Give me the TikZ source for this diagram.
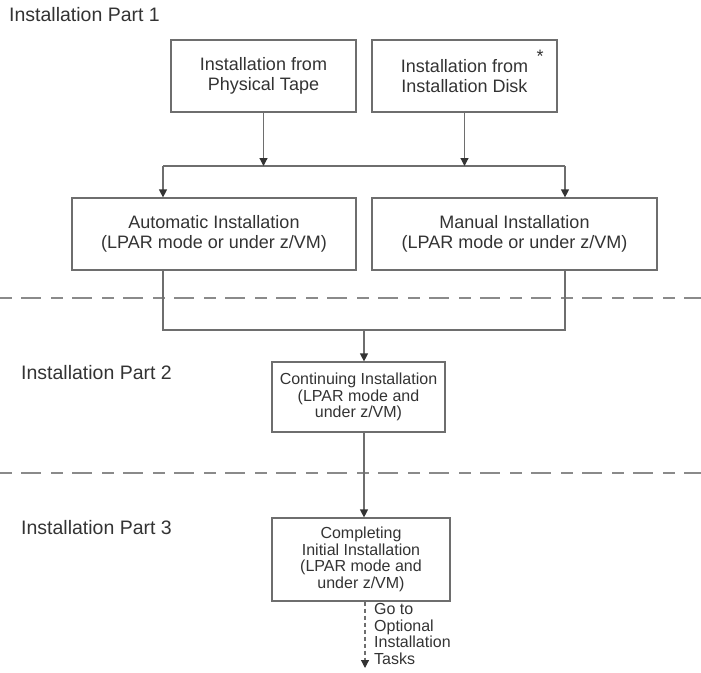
\documentclass[tikz,border=0pt]{standalone}
\usepackage{fontspec}
\setmainfont{Liberation Sans}
\usetikzlibrary{arrows.meta}
\definecolor{inktext}{HTML}{333333}
\definecolor{inkline}{HTML}{6E6E6E}
\definecolor{inkdash}{HTML}{8A8A8A}
\begin{document}
\begin{tikzpicture}[x=1pt,y=-1pt,
  every node/.style={text=inktext},
  bigbox/.style={draw=inkline,line width=1.2pt,align=center,inner sep=0pt,
    font=\fontsize{18}{20}\selectfont},
  smallbox/.style={draw=inkline,line width=1.2pt,align=center,inner sep=0pt,
    font=\fontsize{16}{16.5}\selectfont},
  partlabel/.style={anchor=west,inner sep=0pt,font=\fontsize{19.5}{22}\selectfont},
  link/.style={draw=inkline,line width=1.2pt},
  arr/.style={link,-{Triangle[width=8pt,length=8pt,fill=inktext,color=inktext]}},
  dotarr/.style={arr,dash pattern=on 4pt off 3pt},
  separator/.style={draw=inkdash,line width=1.5pt,dash pattern=on 12pt off 9pt on 20pt off 10pt}]
\useasboundingbox (0,0) rectangle (701,672);

% section titles
\node[partlabel] (p1) at (9,15) {Installation Part 1};
\node[partlabel] (p2) at (21,373) {Installation Part 2};
\node[partlabel] (p3) at (21,528) {Installation Part 3};

% separators between the parts
\coordinate (sepAl) at (0,298);
\coordinate (sepAr) at (701,298);
\coordinate (sepBl) at (0,473);
\coordinate (sepBr) at (701,473);
\draw[separator] (sepAl) -- (sepAr);
\draw[separator] (sepBl) -- (sepBr);

% part 1
\node[bigbox,minimum width=185pt,minimum height=72pt] (tape) at (263.5,76)
  {Installation from\\Physical Tape};
\node[bigbox,minimum width=185pt,minimum height=72pt] (disk) at (464.5,76)
  {Installation from\\Installation Disk};
\node[inner sep=0pt,font=\fontsize{18}{20}\selectfont] (star) at (540,56) {*};
\node[bigbox,minimum width=284pt,minimum height=72pt] (auto) at (214,234)
  {Automatic Installation\\(LPAR mode or under z/VM)};
\node[bigbox,minimum width=285pt,minimum height=72pt] (manual) at (514.5,234)
  {Manual Installation\\(LPAR mode or under z/VM)};

% part 2
\node[smallbox,minimum width=173pt,minimum height=70pt] (cont) at (358.5,397)
  {Continuing Installation\\(LPAR mode and\\under z/VM)};

% part 3
\node[smallbox,minimum width=178pt,minimum height=83pt] (compl) at (361,559.5)
  {Completing\\Initial Installation\\(LPAR mode and\\under z/VM)};
\node[anchor=north west,inner sep=0pt,align=left,
  font=\fontsize{16}{16.7}\selectfont] (optional) at (374,603)
  {Go to\\Optional\\Installation\\Tasks};

% junction points of the connectors
\coordinate (splitL) at (163,166);
\coordinate (splitR) at (565,166);
\coordinate (joinL) at (163,330);
\coordinate (joinR) at (565,330);
\coordinate (joinM) at (364,330);
\coordinate (tasks) at (365,668);

\draw[link] (splitL) -- (splitR);
\draw[arr] (tape.south) -- (tape.south |- splitL);
\draw[arr] (disk.south) -- (disk.south |- splitL);
\draw[arr] (splitL) -- (splitL |- auto.north);
\draw[arr] (splitR) -- (splitR |- manual.north);

\draw[link] (auto.south -| joinL) -- (joinL) -- (joinR) -- (manual.south -| joinR);
\draw[arr] (joinM) -- (joinM |- cont.north);
\draw[arr] (joinM |- cont.south) -- (joinM |- compl.north);
\draw[dotarr] (tasks |- compl.south) -- (tasks);
\end{tikzpicture}
\end{document}
